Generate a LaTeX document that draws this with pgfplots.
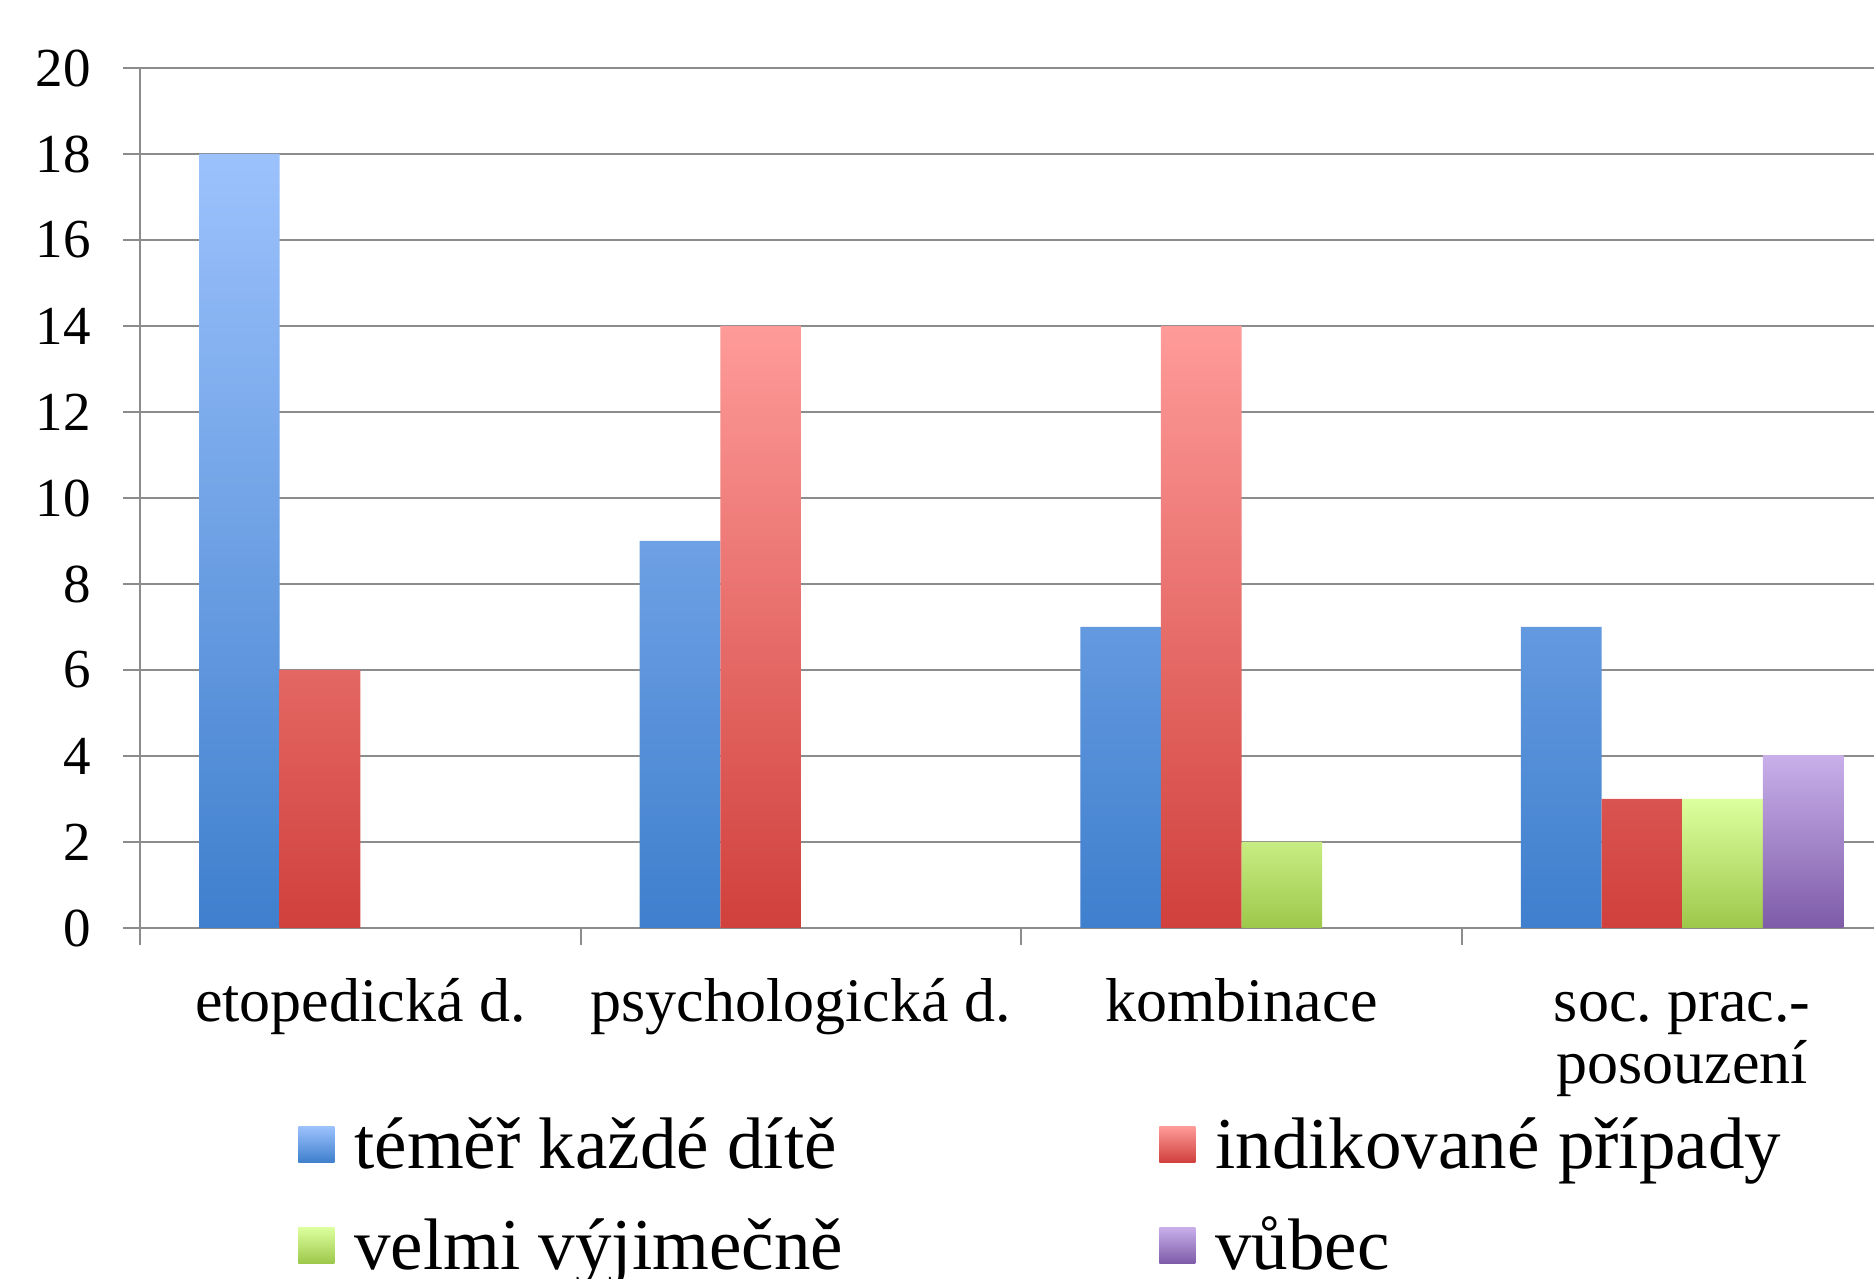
\documentclass[border=0pt]{standalone}
\usepackage{pgfplots}
\pgfplotsset{compat=1.18}
\usepackage{fontspec}
\setmainfont{Liberation Serif}
\frenchspacing
\definecolor{bT}{HTML}{9CC2FC}
\definecolor{bB}{HTML}{3F7FCD}
\definecolor{rT}{HTML}{FE9B99}
\definecolor{rB}{HTML}{D0403C}
\definecolor{gT}{HTML}{DDFF9F}
\definecolor{gB}{HTML}{9CC84A}
\definecolor{pT}{HTML}{C8AFEA}
\definecolor{pB}{HTML}{7E5CA8}
\definecolor{gridc}{HTML}{8C8C8C}
\pgfplotsset{mylegend/.style={legend image code/.code={\path[##1] (0pt,3pt) rectangle (18pt,21pt);}}}
\begin{document}
\begin{tikzpicture}
\begin{axis}[
  at={(70pt,175.5pt)}, anchor=south west,
  scale only axis, width=867pt, height=430pt,
  xmin=-0.5, xmax=3.4355, ymin=0, ymax=20,
  axis x line*=bottom, axis y line*=left,
  axis line style={draw=gridc, line width=1pt},
  ytick={0,2,...,20},
  ymajorgrids, grid style={gridc, line width=1pt},
  tick align=outside, major tick length=8.5pt,
  tick style={gridc, line width=1pt},
  xtick={-0.5,0.5,1.5,2.5}, xticklabels={},
  extra x ticks={0,1,2,3},
  extra x tick labels={etopedická d., psychologická d., kombinace, {\begin{tabular}[t]{@{}c@{}}soc. prac.-\\posouzení\end{tabular}}},
  extra x tick style={major tick length=0pt, grid=none,
     xticklabel style={anchor=base, inner sep=0pt, yshift=-47pt,
       font=\fontsize{31}{30}\selectfont}},
  /pgf/number format/assume math mode=true,
  yticklabel style={font=\fontsize{27.5}{30}\selectfont, inner sep=0pt, anchor=east, xshift=-16pt},
  ybar=0pt, bar width=0.183,
  legend columns=2,
  legend style={draw=none, fill=none, inner sep=0pt, inner xsep=0pt, inner ysep=0pt,
    at={(0.0911,-0.2302)}, anchor=north west,
    font=\fontsize{36.5}{40}\selectfont,
    cells={anchor=base west},
    nodes={inner sep=0pt, text height=21pt, text depth=6pt},
    row sep=23.5pt, column sep=0pt,
    /tikz/every odd column/.append style={column sep=10pt}},
]
\addplot[draw=none, top color=bT, bottom color=bB, mylegend] coordinates {(0,18) (1,9) (2,7) (3,7)};
\addlegendentry{\makebox[402.5pt][l]{téměř každé dítě}}
\addplot[draw=none, top color=rT, bottom color=rB, mylegend] coordinates {(0,6) (1,14) (2,14) (3,3)};
\addlegendentry{indikované případy}
\addplot[draw=none, top color=gT, bottom color=gB, mylegend] coordinates {(2,2) (3,3)};
\addlegendentry{\makebox[402.5pt][l]{velmi výjimečně}}
\addplot[draw=none, top color=pT, bottom color=pB, mylegend] coordinates {(3,4)};
\addlegendentry{vůbec}
\end{axis}
\pgfresetboundingbox
\useasboundingbox (0,0) rectangle (937pt,639.5pt);
\end{tikzpicture}
\end{document}
